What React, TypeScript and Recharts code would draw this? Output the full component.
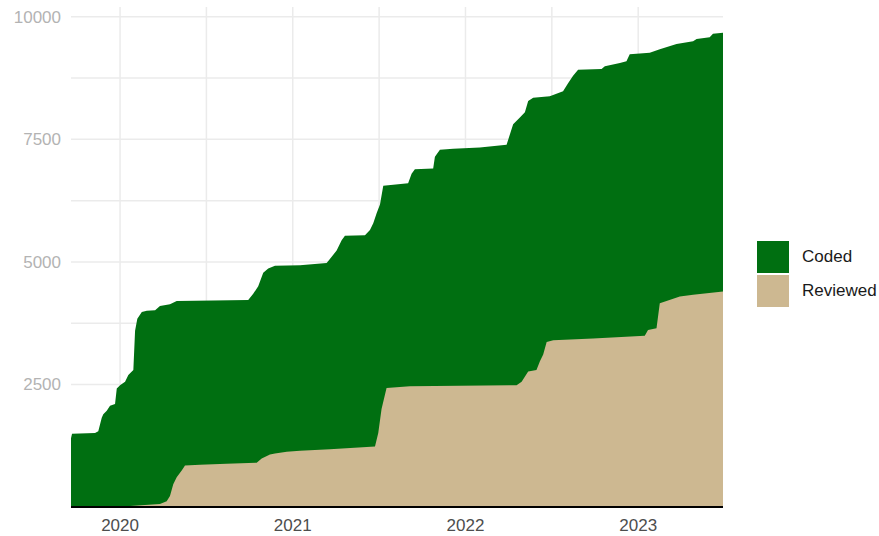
import { AreaChart, Area, XAxis, YAxis, CartesianGrid } from 'recharts';

// decimal years, cumulative counts
const codedDates = [
  2019.716, 2019.722, 2019.855, 2019.874, 2019.894, 2019.903, 2019.923, 2019.942, 2019.971, 2019.981,
  2020.0, 2020.029, 2020.048, 2020.077, 2020.087, 2020.1, 2020.126, 2020.155, 2020.203, 2020.231,
  2020.289, 2020.328, 2020.742, 2020.771, 2020.8, 2020.829, 2020.858, 2020.897, 2021.042, 2021.196,
  2021.215, 2021.254, 2021.283, 2021.302, 2021.418, 2021.447, 2021.466, 2021.486, 2021.505, 2021.524,
  2021.668, 2021.688, 2021.707, 2021.813, 2021.823, 2021.852, 2021.929, 2022.083, 2022.238, 2022.257,
  2022.276, 2022.315, 2022.344, 2022.363, 2022.392, 2022.488, 2022.565, 2022.594, 2022.623, 2022.652,
  2022.788, 2022.807, 2022.894, 2022.932, 2022.951, 2023.067, 2023.125, 2023.222, 2023.318, 2023.338,
  2023.414, 2023.433, 2023.491,
];
const codedCounts = [
  1400, 1496, 1510, 1545, 1823, 1893, 1962, 2067, 2100, 2415,
  2484, 2554, 2693, 2797, 3598, 3841, 3980, 4001, 4015, 4099,
  4134, 4203, 4224, 4349, 4503, 4781, 4864, 4920, 4934, 4976,
  5059, 5233, 5442, 5532, 5546, 5651, 5790, 5999, 6173, 6555,
  6604, 6799, 6889, 6903, 7147, 7286, 7307, 7335, 7390, 7599,
  7808, 7947, 8051, 8281, 8351, 8378, 8483, 8643, 8800, 8921,
  8935, 8991, 9060, 9095, 9234, 9269, 9339, 9443, 9499, 9548,
  9582, 9652, 9673,
];

const reviewedDates = [
  2019.716, 2020.058, 2020.231, 2020.27, 2020.289, 2020.308, 2020.328, 2020.357, 2020.376, 2020.463,
  2020.617, 2020.791, 2020.82, 2020.868, 2020.897, 2020.965, 2021.042, 2021.215, 2021.476, 2021.495,
  2021.514, 2021.543, 2021.678, 2022.296, 2022.325, 2022.363, 2022.411, 2022.431, 2022.45, 2022.47,
  2022.508, 2022.739, 2023.038, 2023.057, 2023.106, 2023.125, 2023.164, 2023.241, 2023.318, 2023.491,
];
const reviewedCounts = [
  5, 20, 63, 118, 223, 466, 605, 745, 849, 863,
  884, 905, 988, 1072, 1093, 1127, 1148, 1176, 1232, 1510,
  1997, 2429, 2463, 2484, 2554, 2763, 2797, 2971, 3111, 3368,
  3403, 3438, 3493, 3612, 3647, 4155, 4203, 4294, 4328, 4398,
];

const yearTicks = [2020, 2020.5, 2021, 2021.5, 2022, 2022.5, 2023];
const countTicks = [0, 1250, 2500, 3750, 5000, 6250, 7500, 8750, 10000];

const GREEN = '#006f11';
const TAN = '#cdb891';

const codedData = codedDates.map((t, i) => ({ t, value: codedCounts[i] }));
const reviewedData = reviewedDates.map((t, i) => ({ t, value: reviewedCounts[i] }));

const font = '"Liberation Sans", Arial, sans-serif';

function LegendBox() {
  const items = [
    { label: 'Coded', color: GREEN },
    { label: 'Reviewed', color: TAN },
  ];
  return (
    <div style={{ position: 'absolute', left: 757, top: 240, fontFamily: font, fontSize: 17, color: '#1a1a1a' }}>
      {items.map(it => (
        <div key={it.label} style={{ display: 'flex', alignItems: 'center', height: 34 }}>
          <div style={{ width: 32, height: 32, background: it.color, marginRight: 13 }} />
          <span>{it.label}</span>
        </div>
      ))}
    </div>
  );
}

export default function App() {
  return (
    <div style={{ position: 'absolute', left: 0, top: 0, width: 879, height: 536, background: '#fff' }}>
      <AreaChart
        width={879}
        height={536}
        margin={{ top: 7, right: 156, bottom: 0, left: 11 }}
      >
        <CartesianGrid stroke="#ebebeb" strokeWidth={1.5} horizontalValues={countTicks} verticalValues={yearTicks} />
        <XAxis
          type="number"
          dataKey="t"
          domain={[2019.716, 2023.491]}
          ticks={yearTicks}
          tickFormatter={(v: number) => (Number.isInteger(v) ? String(v) : '')}
          axisLine={{ stroke: '#000', strokeWidth: 2 }}
          tickLine={false}
          tickSize={0}
          tickMargin={12}
          height={29}
          tick={{ fontSize: 17, fill: '#4d4d4d', fontFamily: font }}
          allowDataOverflow
        />
        <YAxis
          type="number"
          domain={[0, 10200]}
          ticks={countTicks}
          tickFormatter={(v: number) => (v > 0 && v % 2500 === 0 ? String(v) : '')}
          axisLine={false}
          tickLine={false}
          tickSize={0}
          tickMargin={10}
          width={60}
          tick={{ fontSize: 17, fill: '#b3b3b3', fontFamily: font }}
          allowDataOverflow
        />
        <Area
          data={codedData}
          dataKey="value"
          type="linear"
          stroke="none"
          fill={GREEN}
          fillOpacity={1}
          isAnimationActive={false}
          name="Coded"
        />
        <Area
          data={reviewedData}
          dataKey="value"
          type="linear"
          stroke="none"
          fill={TAN}
          fillOpacity={1}
          isAnimationActive={false}
          name="Reviewed"
        />
      </AreaChart>
      <LegendBox />
    </div>
  );
}
